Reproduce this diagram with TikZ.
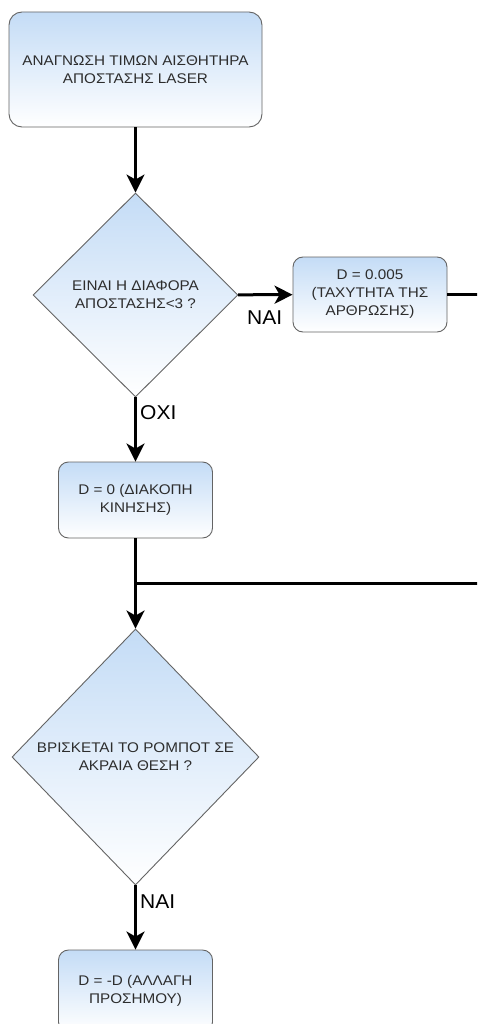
\documentclass[tikz,border=0pt]{standalone}
\usepackage{fontspec}
\setmainfont{Liberation Sans}
\newfontfamily\boxfont[FakeStretch=1.09]{Liberation Sans}
\newfontfamily\lblfont[FakeStretch=1.05]{Liberation Sans}
\usetikzlibrary{shapes.geometric,arrows.meta}
\definecolor{boxtop}{RGB}{196,220,246}
\definecolor{edgegray}{RGB}{100,100,100}
\definecolor{txtgray}{RGB}{45,45,45}
\tikzset{
  flowbox/.style={draw=edgegray, line width=0.9pt, rounded corners=10pt,
    top color=boxtop, bottom color=white, minimum width=154pt,
    text=txtgray, align=center, inner sep=0pt,
    font=\boxfont\fontsize{14}{18}\selectfont},
  decide/.style={draw=edgegray, line width=0.9pt, diamond, shape aspect=1,
    top color=boxtop, bottom color=white, inner sep=0pt,
    text=txtgray, align=center, font=\boxfont\fontsize{14}{18}\selectfont},
  flow/.style={line width=3pt, -{Stealth[length=18pt,width=18pt,inset=5pt]}},
  plain/.style={line width=3pt},
  lbl/.style={font=\lblfont\fontsize{20}{22}\selectfont, text=black, inner sep=0pt}
}
\begin{document}
\begin{tikzpicture}[x=1pt,y=-1pt]
\clip (0,0) rectangle (477,1024);
\fill[white] (0,0) rectangle (477,1024);
\node[flowbox, rounded corners=13pt, minimum width=253pt, minimum height=115pt] (read) at (135.5,69.5)
  {ΑΝΑΓΝΩΣΗ ΤΙΜΩΝ ΑΙΣΘΗΤΗΡΑ\\ΑΠΟΣΤΑΣΗΣ LASER};
\node[decide, minimum width=205pt, minimum height=204pt] (d1) at (135.5,295)
  {ΕΙΝΑΙ Η ΔΙΑΦΟΡΑ\\ΑΠΟΣΤΑΣΗΣ<3 ?};
\node[flowbox, minimum height=75pt] (speed) at (370,294.5)
  {D = 0.005\\(ΤΑΧΥΤΗΤΑ ΤΗΣ\\ΑΡΘΡΩΣΗΣ)};
\node[flowbox, minimum height=76pt] (stop) at (135.5,500)
  {D = 0 (ΔΙΑΚΟΠΗ\\ΚΙΝΗΣΗΣ)};
\node[decide, minimum width=247pt, minimum height=256pt] (d2) at (135.5,757)
  {ΒΡΙΣΚΕΤΑΙ ΤΟ ΡΟΜΠΟΤ ΣΕ\\ΑΚΡΑΙΑ ΘΕΣΗ ?};
\node[flowbox, minimum height=82pt] (flip) at (135.5,991)
  {D = -D (ΑΛΛΑΓΗ\\ΠΡΟΣΗΜΟΥ)};
\coordinate (out1) at (485,294.5);
\coordinate (join) at (135.5,583);
\coordinate (out2) at (485,583);
\draw[flow] (read) -- (d1);
\draw[flow] (d1) -- (speed);
\draw[plain] (speed) -- (out1);
\draw[flow] (d1) -- (stop);
\draw[plain] (stop) -- (join);
\draw[flow] (join) -- (d2);
\draw[plain] (join) -- (out2);
\draw[flow] (d2) -- (flip);
\node[lbl, anchor=west] (yes1) at (247,318) {ΝΑΙ};
\node[lbl, anchor=west] (no1) at (140,413) {ΟΧΙ};
\node[lbl, anchor=west] (yes2) at (140,902) {ΝΑΙ};
\end{tikzpicture}
\end{document}
